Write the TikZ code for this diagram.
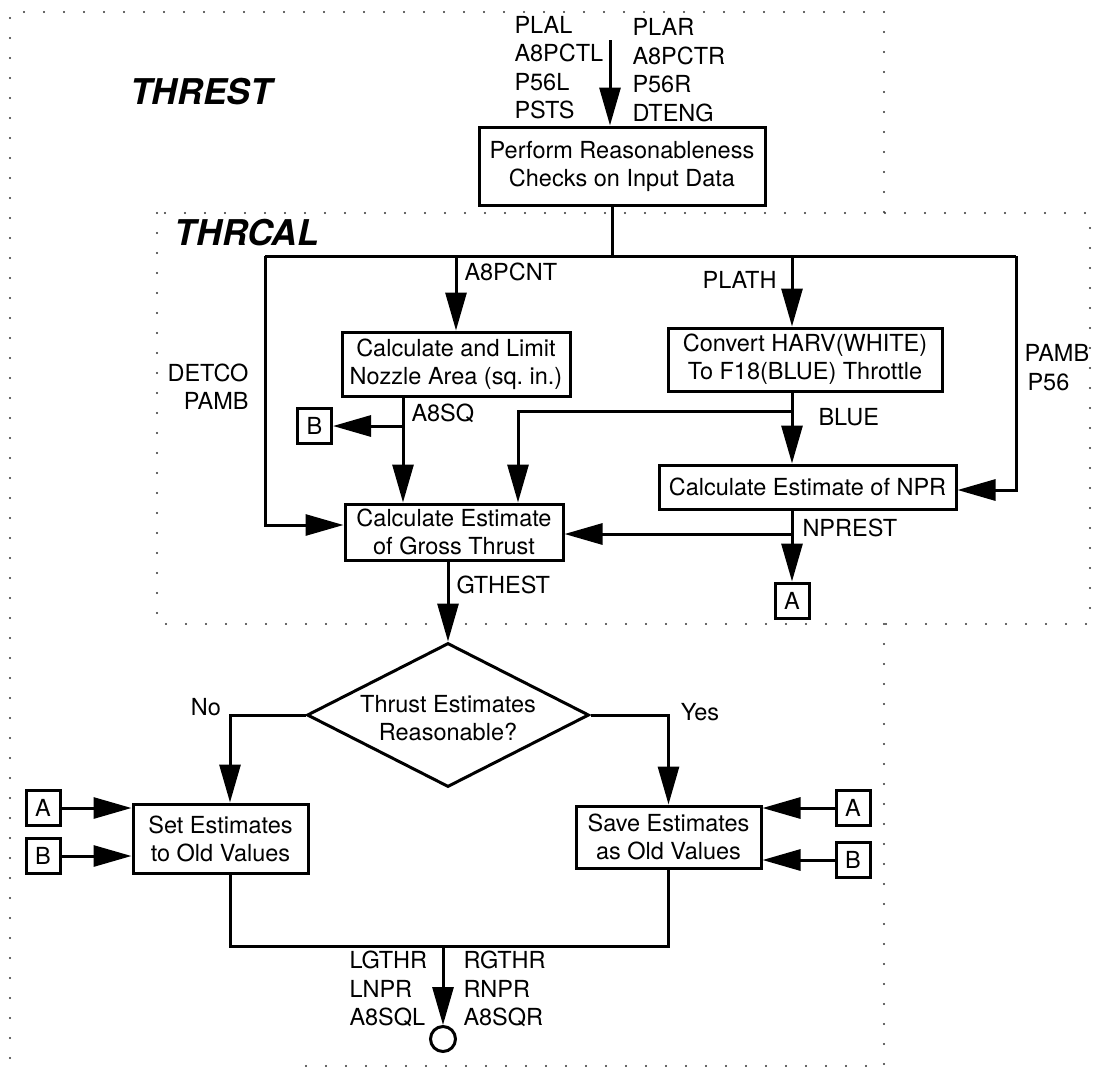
\documentclass[tikz,border=0pt]{standalone}
\usepackage{fontspec}
\setmainfont{TeX Gyre Heros}
\usetikzlibrary{arrows.meta,shapes.geometric}
\begin{document}
\begin{tikzpicture}[x=1pt,y=-1pt,
  line width=3pt,
  arr/.style={-{Triangle[length=38pt,width=21pt]}},
  proc/.style={draw, line width=3pt, inner sep=0pt, align=center, font=\fontsize{23.5}{28}\selectfont},
  conn/.style={draw, line width=3pt, inner sep=0pt, minimum width=34pt, minimum height=35pt, font=\fontsize{23.5}{28}\selectfont},
  lbl/.style={inner sep=0pt, font=\fontsize{23.5}{28.5}\selectfont},
  ttl/.style={inner sep=0pt, font=\fontsize{35.5}{40}\selectfont\bfseries\itshape},
  region/.style={line width=2.2pt, dash pattern=on 0pt off 20pt, line cap=round, black!80}
]
\useasboundingbox (0,0) rectangle (1095,1072);

% regions
\draw[region] (10,1058) -- (10,12) -- (884,12) -- (884,213);
\draw[region] (884,624) -- (884,1066) -- (287,1066);
\draw[region] (157,213) rectangle (1090,624);

% titles
\node[ttl] (tTHREST) at (201,92) {THREST};
\node[ttl] (tTHRCAL) at (247,233) {THRCAL};

% process boxes
\node[proc, minimum width=286pt, minimum height=78pt] (chk) at (622,166) {Perform Reasonableness\\Checks on Input Data};
\node[proc, minimum width=228pt, minimum height=64pt] (noz) at (456,364) {Calculate and Limit\\Nozzle Area (sq.\ in.)};
\node[proc, minimum width=274pt, minimum height=63pt] (conv) at (805,359.5) {Convert HARV(WHITE)\\To F18(BLUE) Throttle};
\node[proc, minimum width=297pt, minimum height=44pt] (npr) at (807.5,487) {Calculate Estimate of NPR};
\node[proc, minimum width=218pt, minimum height=56pt] (gt) at (454,532) {Calculate Estimate\\of Gross Thrust};
\node[draw, diamond, line width=3pt, inner sep=0pt, minimum width=282pt, minimum height=144pt] (dec) at (448,715) {};
\node[lbl, align=center] (dectext) at (448,718) {Thrust Estimates\\Reasonable?};
\node[proc, minimum width=175pt, minimum height=69pt] (set) at (220.5,838.5) {Set Estimates\\to Old Values};
\node[proc, minimum width=185pt, minimum height=62pt] (save) at (668.5,837) {Save Estimates\\as Old Values};

% connectors
\node[conn] (Bnoz) at (314.5,426) {B};
\node[conn] (Anpr) at (792,600.5) {A};
\node[conn] (Aset) at (43,808) {A};
\node[conn] (Bset) at (43,856) {B};
\node[conn] (Asave) at (853,808) {A};
\node[conn] (Bsave) at (853,860) {B};
\node[circle, draw, line width=3pt, minimum size=25pt, inner sep=0pt] (out) at (443,1039) {};

% coordinates
\coordinate (in) at (610,40);
\coordinate (bus) at (612,256);
\coordinate (busL) at (265,256);
\coordinate (busR) at (1016,256);
\coordinate (sq) at (403,426);
\coordinate (bl) at (792,411);
\coordinate (blL) at (518,411);
\coordinate (pl) at (792,256);
\coordinate (np) at (792,534);
\coordinate (nox) at (230,715);
\coordinate (yx) at (668.5,715);
\coordinate (m) at (443,946);

% connectors
\draw[arr] (in) -- (in |- chk.north);
\draw (chk.south -| bus) -- (bus);
\draw (busL) -- (busR);
\draw[arr] (busL) |- ([yshift=7pt]gt.west);
\draw[arr] (noz.north |- busL) -- (noz.north);
\draw[arr] (noz.south -| sq) -- (gt.north -| sq);
\draw[arr] (sq) -- (Bnoz.east);
\draw[arr] (bl) -| (gt.north -| blL);
\draw[arr] (pl) -- (pl |- conv.north);
\draw[arr] (pl |- conv.south) -- (pl |- npr.north);
\draw[arr] (pl |- npr.south) -- (Anpr.north);
\draw[arr] (np) -- (gt.east |- np);
\draw[arr] (busR) |- ([yshift=-3pt]npr.east);
\draw[arr] (gt.south -| dec.north) -- (dec.north);
\draw[arr] (dec.west) -| (set.north -| nox);
\draw[arr] (dec.east) -- (yx) -- (save.north);
\draw[arr] (Aset.east) -- (set.west |- Aset.east);
\draw[arr] (Bset.east) -- (set.west |- Bset.east);
\draw[arr] (Asave.west) -- (save.east |- Asave.west);
\draw[arr] (Bsave.west) -- (save.east |- Bsave.west);
\draw (set.south -| nox) |- (m) -| (save.south);
\draw[arr] (m) -- (out.north);

% labels
\node[lbl, anchor=west, align=left] (lin1) at (513,67.5) {PLAL\\A8PCTL\\P56L\\PSTS};
\node[lbl, anchor=west, align=left] (lin2) at (631,70) {PLAR\\A8PCTR\\P56R\\DTENG};
\node[lbl, anchor=west] (lA8PCNT) at (463,272) {A8PCNT};
\node[lbl, anchor=east] (lPLATH) at (778,280) {PLATH};
\node[lbl, anchor=east, align=right] (lDET) at (250,386.5) {DETCO\\PAMB};
\node[lbl, anchor=west, align=left] (lPAMB) at (1023,367.5) {PAMB\\\hspace*{3pt}P56};
\node[lbl, anchor=west] (lA8SQ) at (410,413) {A8SQ};
\node[lbl, anchor=west] (lBLUE) at (817,417) {BLUE};
\node[lbl, anchor=west] (lNPREST) at (801,528) {NPREST};
\node[lbl, anchor=west] (lGTHEST) at (455,585) {GTHEST};
\node[lbl] (lNo) at (206,707) {No};
\node[lbl] (lYes) at (700,712) {Yes};
\node[lbl, anchor=west, align=left] (lout1) at (348,989) {LGTHR\\LNPR\\A8SQL};
\node[lbl, anchor=west, align=left] (lout2) at (462,989) {RGTHR\\RNPR\\A8SQR};
\end{tikzpicture}
\end{document}
